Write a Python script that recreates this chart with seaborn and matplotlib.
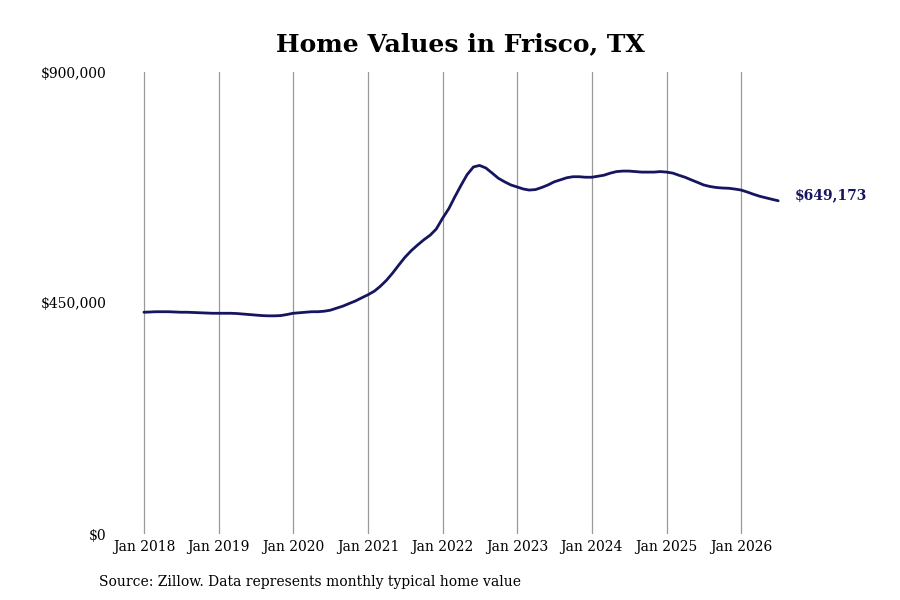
import numpy as np
import pandas as pd
import matplotlib
matplotlib.use('Agg')
import matplotlib.pyplot as plt
import matplotlib.dates as mdates
import matplotlib.ticker as mticker
import seaborn as sns

# monthly typical home value, Jan 2018 .. Jul 2026 (thousands of $)
values_2018 = [432, 432.5, 433, 433, 433, 432.5, 432, 432, 431.5, 431, 430.5, 430]
values_2019 = [430, 430, 430, 429.5, 428.5, 427.5, 426.5, 425.5, 425, 425, 425.5, 427.5]
values_2020 = [430, 431, 432, 433, 433, 434, 436, 440, 444, 449, 454, 460]
values_2021 = [466, 473, 482, 494, 508, 524, 539, 552, 563, 573, 582, 594]
values_2022 = [615, 634, 656, 679, 700, 715, 718, 713, 703, 693, 686, 680]
values_2023 = [676, 672, 670, 671, 675, 680, 686, 690, 694, 696, 696, 695]
values_2024 = [695, 697, 699, 703, 706, 707, 707, 706, 705, 705, 705, 706]
values_2025 = [705, 703, 699, 695, 690, 685, 680, 677, 675, 674, 673.5, 672]
values_2026 = [670, 666, 662, 658, 655, 652, 649.173]

values = (values_2018 + values_2019 + values_2020 + values_2021 + values_2022
          + values_2023 + values_2024 + values_2025 + values_2026)
dates = pd.date_range('2018-01-01', periods=len(values), freq='MS')
df = pd.DataFrame({'date': dates, 'value': np.array(values) * 1000})

line_color = '#16155f'
last_label = '$649,173'

sns.set_style('white')
plt.rcParams['font.family'] = ['DejaVu Serif']
plt.rcParams['text.color'] = 'black'

fig = plt.figure(figsize=(9, 6), dpi=100)
ax = fig.add_axes([0.1322, 0.11, 0.7672, 0.77])

sns.lineplot(data=df, x='date', y='value', ax=ax, color=line_color, linewidth=2)

ax.set_xlim(pd.Timestamp('2017-09-01'), pd.Timestamp('2026-12-01'))
ax.set_ylim(0, 900000)
ax.xaxis.set_major_locator(mdates.YearLocator())
ax.xaxis.set_major_formatter(mdates.DateFormatter('Jan %Y'))
ax.set_yticks([0, 450000, 900000])
ax.yaxis.set_major_formatter(mticker.FuncFormatter(lambda v, p: f'${v:,.0f}'))

ax.grid(axis='x', color='#999999', linewidth=0.9)
ax.grid(axis='y', visible=False)
for s in ax.spines.values():
    s.set_visible(False)
ax.tick_params(axis='both', length=0, labelsize=10, colors='black')
ax.tick_params(axis='y', pad=9)
ax.tick_params(axis='x', pad=4)
ax.set_xlabel('')
ax.set_ylabel('')

ax.annotate(last_label, xy=(df['date'].iloc[-1], df['value'].iloc[-1]),
            xytext=(12, 4), textcoords='offset points', ha='left', va='center',
            fontsize=10, fontweight='bold', color=line_color)

fig.text(0.512, 0.927, 'Home Values in Frisco, TX', ha='center', va='center',
         fontsize=18, fontweight='bold', color='black')
fig.text(0.11, 0.03, 'Source: Zillow. Data represents monthly typical home value',
         ha='left', va='center', fontsize=10, color='black')

fig.savefig('out.png', dpi=100)
plt.close(fig)
